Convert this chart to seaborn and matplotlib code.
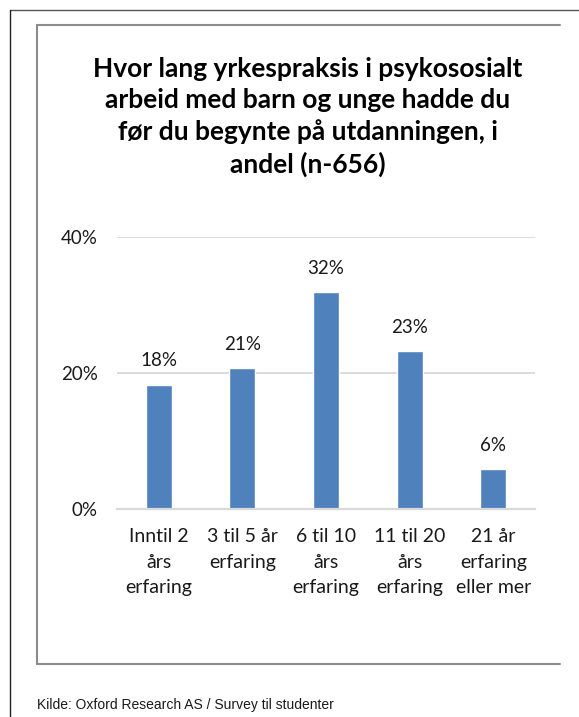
"""
Yrkespraksis før utdanningen - stolpediagram.
"""

import matplotlib
matplotlib.use("Agg")
import matplotlib.pyplot as plt
from matplotlib.lines import Line2D
from matplotlib.ticker import PercentFormatter
import seaborn as sns
import pandas as pd

kategorier = ["Inntil 2\nårs\nerfaring", "3 til 5 år\nerfaring", "6 til 10\nårs\nerfaring",
              "11 til 20\nårs\nerfaring", "21 år\nerfaring\neller mer"]
andel = [18.3, 20.7, 31.9, 23.2, 5.9]
etiketter = ["18%", "21%", "32%", "23%", "6%"]
y_ticks = [0, 20, 40]

tittel = ("Hvor lang yrkespraksis i psykososialt\narbeid med barn og unge hadde du\n"
          "før du begynte på utdanningen, i\nandel (n-656)")
kilde = "Kilde: Oxford Research AS / Survey til studenter"

sns.set_style("white")
plt.rcParams["font.family"] = ["Lato", "DejaVu Sans"]

W, H = 579, 717
fig = plt.figure(figsize=(W / 100, H / 100), dpi=100)
ax = fig.add_axes([117 / W, 1 - 509 / H, (535 - 117) / W, (509 - 237) / H])

df = pd.DataFrame({"kategori": kategorier, "andel": andel})
sns.barplot(data=df, x="kategori", y="andel", color="#4f81bd", width=0.31,
            saturation=1, ax=ax, zorder=3)

for i, (v, t) in enumerate(zip(andel, etiketter)):
    ax.annotate(t, (i, v), xytext=(0, 17), textcoords="offset points",
                ha="center", va="center", fontsize=13.5, color="#1a1a1a")

ax.set_ylim(0, 40)
ax.set_xlim(-0.5, len(kategorier) - 0.5)
ax.set_yticks(y_ticks)
ax.yaxis.set_major_formatter(PercentFormatter(decimals=0))
ax.grid(axis="y", color="#d9d9d9", linewidth=1.3, zorder=0)
ax.grid(axis="x", visible=False)
sns.despine(ax=ax, left=True, top=True, right=True, bottom=False)
ax.spines["bottom"].set_color("#d9d9d9")
ax.spines["bottom"].set_linewidth(1.6)
ax.spines["bottom"].set_zorder(4)
ax.tick_params(axis="y", length=0, pad=14, labelsize=13.5, labelcolor="#1a1a1a")
ax.tick_params(axis="x", length=0, pad=14, labelsize=14, labelcolor="#1a1a1a")
for lbl in ax.get_xticklabels():
    lbl.set_linespacing(1.6)
ax.set_xlabel("")
ax.set_ylabel("")

fig.text(308 / W, 1 - 117 / H, tittel, ha="center", va="center", fontsize=19,
         fontweight="bold", linespacing=1.35, color="black")
fig.text(37 / W, 1 - 705 / H, kilde, ha="left", va="center", fontsize=10,
         family=["Liberation Sans Narrow", "Liberation Sans"], color="#1a1a1a")

# rammer
def linje(x0, y0, x1, y1, farge, lw):
    fig.add_artist(Line2D([x0 / W, x1 / W], [1 - y0 / H, 1 - y1 / H],
                          color=farge, linewidth=lw, transform=fig.transFigure))

linje(10, 10, W, 10, "#555555", 1.0)
linje(10, 10, 10, H, "#222222", 1.0)
linje(37, 25, 560, 25, "#8c8c8c", 1.5)
linje(37, 25, 37, 664, "#8c8c8c", 1.5)
linje(37, 664, 560, 664, "#8c8c8c", 1.5)

fig.savefig("out.png", dpi=100)
